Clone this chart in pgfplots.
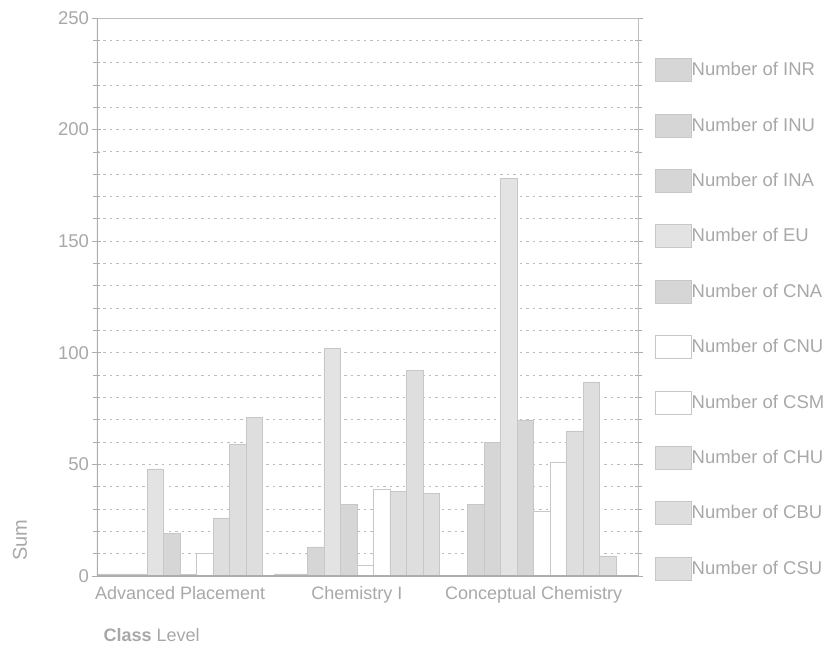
\documentclass[border=0pt]{standalone}
\usepackage{fontspec}
\setmainfont{Liberation Sans}
\usepackage{pgfplots}
\pgfplotsset{compat=1.18}

\definecolor{txt}{gray}{0.66}
\definecolor{gridc}{gray}{0.74}
\definecolor{axisc}{gray}{0.68}
\definecolor{barA}{gray}{0.84}
\definecolor{barB}{gray}{0.87}
\definecolor{barC}{gray}{0.89}
\definecolor{edge}{gray}{0.78}

\pgfplotsset{
  swatch/.style={
    legend image code/.code={
      \draw[##1] (0pt,-11.5pt) rectangle (36pt,11.5pt);
    }
  }
}

\begin{document}
\begin{tikzpicture}[x=1pt,y=1pt]
\path[use as bounding box] (-97,-95) rectangle (737,576);
\begin{axis}[
  at={(0,0)}, anchor=south west,
  scale only axis, width=541pt, height=558pt,
  ybar=0pt, bar width=16.5pt,
  xmin=-0.47, xmax=2.59, ymin=0, ymax=250,
  xtick={0,1,2},
  xticklabels={Advanced Placement, Chemistry I, Conceptual Chemistry},
  x tick label style={font=\fontsize{18}{21}\selectfont, text=txt, yshift=-2pt},
  major x tick style={draw=none},
  ytick={0,50,100,150,200,250},
  minor ytick={10,20,...,240},
  y tick label style={font=\fontsize{18.5}{22}\selectfont, text=txt},
  /pgf/number format/assume math mode=true,
  tick align=center,
  major tick length=9pt, minor tick length=7pt,
  every tick/.style={draw=axisc, line width=0.8pt},
  ymajorgrids, yminorgrids,
  major grid style={draw=gridc, dash pattern=on 2.5pt off 4pt, line width=0.9pt},
  minor grid style={draw=gridc, dash pattern=on 2.5pt off 4pt, line width=0.9pt},
  axis line style={draw=gridc, line width=0.6pt},
  ylabel={Sum},
  every axis y label/.style={at={(0,0)}, xshift=-77pt, yshift=36pt,
    rotate=90, anchor=center, font=\fontsize{20}{23}\selectfont, text=txt},
  xlabel={\textbf{Class} Level},
  every axis x label/.style={at={(0,0)}, xshift=3pt, yshift=-59pt,
    anchor=west, font=\fontsize{18}{21}\selectfont, text=txt},
  legend style={
    at={(1.026,0.932)}, anchor=north west,
    draw=none, fill=none,
    font=\fontsize{18.5}{22}\selectfont, text=txt,
    row sep=32pt,
    nodes={inner sep=0pt},
    /tikz/every even column/.append style={column sep=3pt},
  },
  legend cell align=left,
]
% one series per enrolment code, groups: Advanced Placement, Chemistry I, Conceptual Chemistry
\addplot[swatch, fill=barA, draw=edge] coordinates {(0,1) (1,1) (2,0)};
\addlegendentry{Number of INR}
\addplot[swatch, fill=barA, draw=edge] coordinates {(0,1) (1,1) (2,32)};
\addlegendentry{Number of INU}
\addplot[swatch, fill=barA, draw=edge] coordinates {(0,1) (1,13) (2,60)};
\addlegendentry{Number of INA}
\addplot[swatch, fill=barC, draw=edge] coordinates {(0,48) (1,102) (2,178)};
\addlegendentry{Number of EU}
\addplot[swatch, fill=barA, draw=edge] coordinates {(0,19) (1,32) (2,70)};
\addlegendentry{Number of CNA}
\addplot[swatch, fill=white, draw=edge] coordinates {(0,1) (1,5) (2,29)};
\addlegendentry{Number of CNU}
\addplot[swatch, fill=white, draw=edge] coordinates {(0,10) (1,39) (2,51)};
\addlegendentry{Number of CSM}
\addplot[swatch, fill=barB, draw=edge] coordinates {(0,26) (1,38) (2,65)};
\addlegendentry{Number of CHU}
\addplot[swatch, fill=barB, draw=edge] coordinates {(0,59) (1,92) (2,87)};
\addlegendentry{Number of CBU}
\addplot[swatch, fill=barB, draw=edge] coordinates {(0,71) (1,37) (2,9)};
\addlegendentry{Number of CSU}
% heavier left and bottom axis lines
\draw[draw=axisc, line width=1.3pt] (rel axis cs:0,0) -- (rel axis cs:0,1);
\draw[draw=axisc, line width=1.8pt] (rel axis cs:0,0) -- (rel axis cs:1,0);
\end{axis}
\end{tikzpicture}
\end{document}
